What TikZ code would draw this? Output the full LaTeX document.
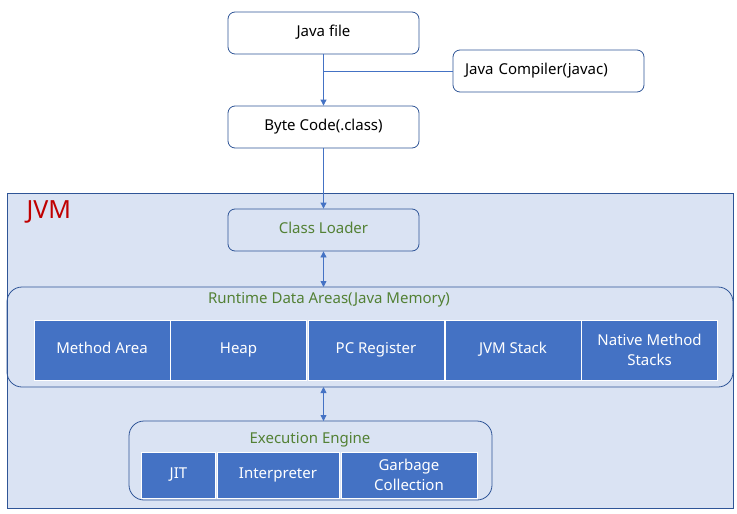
\documentclass[tikz,border=0pt]{standalone}
\usepackage{fontspec}
\setmainfont{Noto Sans}
\usetikzlibrary{arrows.meta}
\definecolor{LineClr}{HTML}{4472C4}
\definecolor{EdgeClr}{HTML}{2F5597}
\definecolor{PaleClr}{HTML}{DAE3F3}
\definecolor{CellClr}{HTML}{4472C4}
\definecolor{NameClr}{HTML}{538135}
\definecolor{JvmClr}{HTML}{C00000}

\begin{document}
\begin{tikzpicture}[x=1pt,y=-1pt,font=\fontsize{15}{20}\selectfont,
  box/.style={draw=EdgeClr,line width=0.8pt,rounded corners=7pt,fill=white,
    minimum width=191pt,minimum height=42pt,inner sep=0pt,
    text height=1.5ex,text depth=.3ex},
  pale/.style={box,fill=PaleClr,text=NameClr},
  cell/.style={draw=white,line width=0.6pt,fill=CellClr,text=white,
    inner sep=0pt,align=center},
  word/.style={text height=1.5ex,text depth=.3ex},
  link/.style={draw=LineClr,line width=0.8pt},
  tip/.style={-{Triangle[width=6pt,length=6pt]}}]
\useasboundingbox (0,0) rectangle (737,514);

% outer frame of the virtual machine
\draw[draw=EdgeClr,fill=PaleClr,line width=0.8pt] (7,193) rectangle (733,508);
\node[anchor=west,text=JvmClr,font=\fontsize{25}{28}\selectfont] (jvm) at (23,212) {JVM};

% source side
\node[box] (javafile) at (323.5,33) {Java file};
\node[box,text width=167pt,align=left] (javac) at (548.5,71) {Java Compiler(javac)};
\node[box] (bytecode) at (323.5,127) {Byte Code(.class)};
\node[pale] (loader) at (323.5,230) {Class Loader};

% runtime data areas
\draw[draw=EdgeClr,line width=0.8pt,rounded corners=15pt] (7,287) rectangle (733,387);
\coordinate (rtop) at (323.5,287);
\coordinate (rbot) at (323.5,387);
\node[text=NameClr] (rtitle) at (329,300) {Runtime Data Areas(Java Memory)};
\node[cell,word,minimum width=136pt,minimum height=60pt] (method) at (102,350) {Method Area};
\node[cell,word,minimum width=136pt,minimum height=60pt] (heap) at (238.5,350) {Heap};
\node[cell,word,minimum width=136pt,minimum height=60pt] (pcreg) at (376,350) {PC Register};
\node[cell,word,minimum width=136pt,minimum height=60pt] (stack) at (513,350) {JVM Stack};
\node[cell,minimum width=136pt,minimum height=60pt] (native) at (649.5,350) {Native Method\\Stacks};

% execution engine
\draw[draw=EdgeClr,line width=0.8pt,rounded corners=15pt] (129,421) rectangle (492,500);
\coordinate (etop) at (323.5,421);
\node[text=NameClr] (etitle) at (310,440) {Execution Engine};
\node[cell,word,minimum width=74pt,minimum height=46pt] (jit) at (178.5,475) {JIT};
\node[cell,word,minimum width=122pt,minimum height=46pt] (interp) at (278,475) {Interpreter};
\node[cell,minimum width=136pt,minimum height=46pt] (gc) at (409,475) {Garbage\\Collection};

% connectors
\draw[link,tip] (javafile) -- (bytecode);
\draw[link] (javac.west) -- (javac.west -| javafile);
\draw[link,tip] (bytecode) -- (loader);
\draw[link,{Triangle[width=6pt,length=6pt]}-{Triangle[width=6pt,length=6pt]}] (loader) -- (rtop);
\draw[link,{Triangle[width=6pt,length=6pt]}-{Triangle[width=6pt,length=6pt]}] (rbot) -- (etop);
\end{tikzpicture}
\end{document}
